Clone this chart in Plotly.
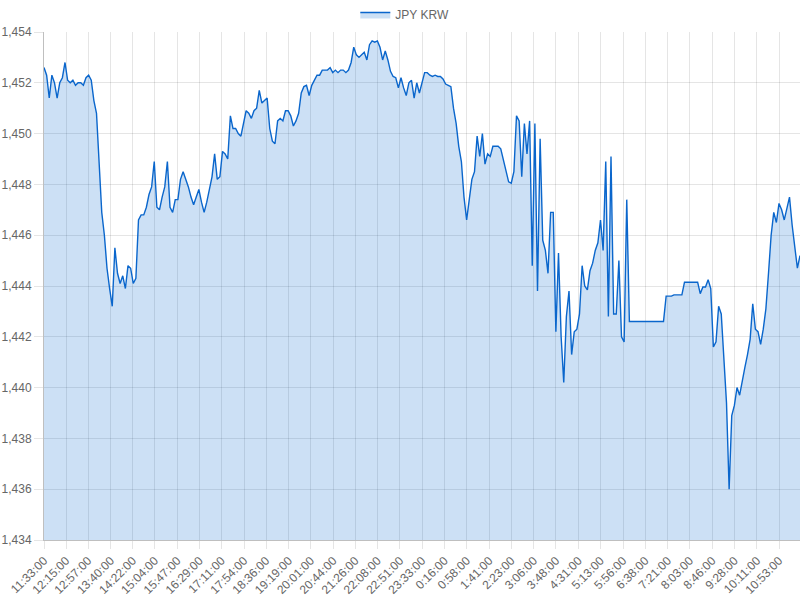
import plotly.graph_objects as go

# JPY/KRW rate sampled every 5 minutes, starting 11:33:00
START_TIME = "11:33:00"
STEP_MIN = 5

tick_labels = [
    "11:33:00", "12:15:00", "12:57:00", "13:40:00", "14:22:00", "15:04:00",
    "15:47:00", "16:29:00", "17:11:00", "17:54:00", "18:36:00", "19:19:00",
    "20:01:00", "20:44:00", "21:26:00", "22:08:00", "22:51:00", "23:33:00",
    "0:16:00", "0:58:00", "1:41:00", "2:23:00", "3:06:00", "3:48:00",
    "4:31:00", "5:13:00", "5:56:00", "6:38:00", "7:21:00", "8:03:00",
    "8:46:00", "9:28:00", "10:11:00", "10:53:00",
]

jpy_krw = [
    1452.6, 1452.3, 1451.4, 1452.3, 1452.0, 1451.4, 1452.0, 1452.2, 1452.8, 1452.1,
    1452.0, 1452.1, 1451.9, 1452.0, 1452.0, 1451.9, 1452.2, 1452.3, 1452.1, 1451.3,
    1450.8, 1448.6, 1446.9, 1446.0, 1444.7, 1443.9, 1443.2, 1445.5, 1444.5, 1444.1,
    1444.4, 1443.9, 1444.8, 1444.7, 1444.1, 1444.3, 1446.6, 1446.8, 1446.8, 1447.1,
    1447.6, 1447.9, 1448.9, 1447.1, 1447.0, 1447.5, 1447.9, 1448.9, 1447.1, 1446.9,
    1447.4, 1447.4, 1448.2, 1448.5, 1448.2, 1447.9, 1447.5, 1447.2, 1447.5, 1447.8,
    1447.3, 1446.9, 1447.3, 1447.8, 1448.3, 1449.2, 1448.2, 1448.3, 1449.3, 1449.2,
    1449.0, 1450.7, 1450.2, 1450.2, 1450.0, 1449.9, 1450.4, 1450.9, 1450.8, 1450.6,
    1450.9, 1451.0, 1451.7, 1451.2, 1451.3, 1451.4, 1450.2, 1449.7, 1449.6, 1450.5,
    1450.6, 1450.5, 1450.9, 1450.9, 1450.7, 1450.3, 1450.5, 1450.8, 1451.6, 1451.85,
    1451.9, 1451.5, 1451.9, 1452.1, 1452.3, 1452.3, 1452.5, 1452.5, 1452.5, 1452.6,
    1452.4, 1452.5, 1452.4, 1452.5, 1452.5, 1452.4, 1452.5, 1452.8, 1453.4, 1453.1,
    1453.0, 1453.1, 1453.2, 1452.9, 1453.5, 1453.65, 1453.6, 1453.65, 1453.4, 1452.9,
    1453.25, 1452.9, 1452.45, 1452.25, 1452.2, 1451.8, 1452.2, 1451.8, 1451.5, 1452.0,
    1452.1, 1451.4, 1452.0, 1451.6, 1452.0, 1452.4, 1452.4, 1452.3, 1452.25, 1452.3,
    1452.25, 1452.25, 1452.15, 1451.95, 1451.9, 1451.85, 1451.0, 1450.4, 1449.5, 1448.9,
    1447.5, 1446.6, 1447.4, 1448.2, 1448.5, 1449.9, 1449.1, 1450.0, 1448.8, 1449.2,
    1449.1, 1449.5, 1449.5, 1449.5, 1449.4, 1449.0, 1448.6, 1448.1, 1448.05, 1448.5,
    1450.7, 1450.5, 1448.3, 1450.4, 1449.2, 1450.5, 1444.8, 1450.4, 1443.8, 1449.8,
    1445.8, 1445.4, 1444.5, 1446.9, 1446.9, 1442.2, 1445.3, 1442.0, 1440.2, 1442.8,
    1443.8, 1441.3, 1442.2, 1442.3, 1442.9, 1444.8, 1444.0, 1443.85, 1444.6, 1444.9,
    1445.4, 1445.7, 1446.6, 1445.4, 1448.9, 1442.8, 1449.1, 1442.9, 1442.9, 1445.0,
    1442.0, 1441.8, 1447.4, 1442.6, 1442.6, 1442.6, 1442.6, 1442.6, 1442.6, 1442.6,
    1442.6, 1442.6, 1442.6, 1442.6, 1442.6, 1442.6, 1442.6, 1443.6, 1443.6, 1443.6,
    1443.65, 1443.65, 1443.65, 1443.65, 1444.15, 1444.15, 1444.15, 1444.15, 1444.15, 1444.15,
    1443.7, 1443.96, 1443.96, 1444.25, 1443.9, 1441.6, 1441.8, 1443.2, 1442.9, 1441.0,
    1439.4, 1436.0, 1438.9, 1439.3, 1440.0, 1439.7, 1440.3, 1440.8, 1441.3, 1441.9,
    1443.3, 1442.3, 1442.2, 1441.7, 1442.3, 1443.1, 1444.5, 1446.0, 1446.9, 1446.5,
    1447.25, 1447.0, 1446.6, 1447.1, 1447.5, 1446.4, 1445.6, 1444.7, 1445.2,
]


def minutes_from_start(t):
    h, m, _ = (int(p) for p in t.split(":"))
    sh, sm, _ = (int(p) for p in START_TIME.split(":"))
    off = (h * 60 + m) - (sh * 60 + sm)
    if off < 0:
        off += 24 * 60
    return off


sample_minutes = [i * STEP_MIN for i in range(len(jpy_krw))]
tick_minutes = [minutes_from_start(t) for t in tick_labels]

grid = "rgba(0,0,0,0.1)"
font_col = "#666666"

fig = go.Figure()
fig.add_trace(
    go.Scatter(
        x=sample_minutes,
        y=jpy_krw,
        mode="lines",
        name="JPY KRW",
        line=dict(color="#0a66cc", width=1.4),
        fill="tozeroy",
        fillcolor="rgba(0,102,204,0.2)",
    )
)

fig.update_layout(
    width=800,
    height=600,
    margin=dict(l=44, r=0, t=32, b=60),
    paper_bgcolor="white",
    plot_bgcolor="white",
    font=dict(family="Liberation Sans, Arial, sans-serif", size=12, color=font_col),
    showlegend=True,
    legend=dict(
        orientation="h",
        xref="container",
        x=0.506,
        xanchor="center",
        yref="container",
        y=1.0,
        yanchor="top",
        font=dict(size=12, color=font_col),
    ),
)

fig.update_xaxes(
    range=[0, sample_minutes[-1]],
    tickmode="array",
    tickvals=tick_minutes,
    ticktext=tick_labels,
    tickangle=-45,
    showgrid=True,
    gridcolor=grid,
    ticks="outside",
    ticklen=8,
    tickcolor=grid,
    showline=True,
    linecolor="rgba(0,0,0,0.25)",
    zeroline=False,
    automargin=False,
)

fig.update_yaxes(
    range=[1434, 1454],
    tick0=1434,
    dtick=2,
    tickformat=",d",
    showgrid=True,
    gridcolor=grid,
    ticks="outside",
    ticklen=9,
    tickcolor=grid,
    showline=True,
    linecolor="rgba(0,0,0,0.25)",
    zeroline=False,
    automargin=False,
)

# drop the browser's default page margin so the chart sits at the window corner
fig.write_html(
    "out.html",
    config={"displayModeBar": False},
    post_script="document.body.style.margin='0';",
)
